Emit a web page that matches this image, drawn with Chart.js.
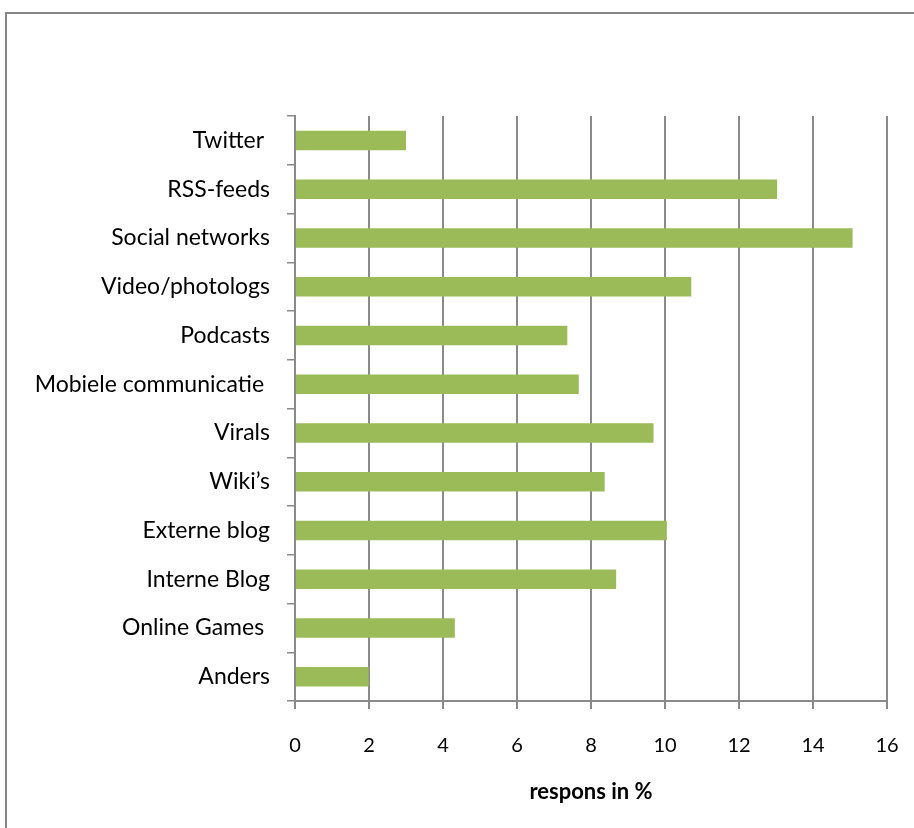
<!DOCTYPE html>
<html>
<head>
<meta charset="utf-8">
<script src="https://cdn.jsdelivr.net/npm/chart.js@4"></script>
<style>
html,body{margin:0;padding:0;background:#fff;overflow:hidden;width:914px;height:828px;}
canvas{display:block;}
</style>
</head>
<body>
<canvas id="c" width="980" height="828"></canvas>
<script>
const categories = ["Twitter ", "RSS-feeds", "Social networks", "Video/photologs", "Podcasts", "Mobiele communicatie ", "Virals", "Wiki\u2019s", "Externe blog", "Interne Blog", "Online Games ", "Anders"];
const values = [3.0, 13.03, 15.07, 10.71, 7.36, 7.67, 9.69, 8.37, 10.05, 8.68, 4.32, 1.99];
const xTicks = [0, 2, 4, 6, 8, 10, 12, 14, 16];
const xTitle = "respons in %";

const frame = {
  id: 'frame',
  beforeDraw(chart) {
    const ctx = chart.ctx;
    ctx.save();
    ctx.fillStyle = '#fff';
    ctx.fillRect(0, 0, chart.width, chart.height);
    ctx.strokeStyle = '#868686';
    ctx.lineWidth = 2;
    ctx.strokeRect(6, 13, 1000, 1000);
    ctx.restore();
  }
};

new Chart(document.getElementById('c'), {
  type: 'bar',
  data: {
    labels: categories,
    datasets: [{
      data: values,
      backgroundColor: '#9BBB59',
      borderWidth: 0,
      categoryPercentage: 1,
      barPercentage: 0.4
    }]
  },
  plugins: [frame],
  options: {
    indexAxis: 'y',
    responsive: false,
    animation: false,
    devicePixelRatio: 1,
    layout: { padding: { left: 0, top: 116, right: 93, bottom: 0 } },
    plugins: { legend: { display: false }, tooltip: { enabled: false } },
    scales: {
      x: {
        type: 'linear',
        min: 0, max: 16,
        afterFit(s) { s.height = 127; },
        afterBuildTicks(s) { s.ticks = xTicks.map(v => ({ value: v })); },
        ticks: { color: '#000', font: { family: 'Lato', size: 20 }, padding: 25 },
        grid: { color: '#8a8a8a', lineWidth: 2, tickLength: 8, drawTicks: true },
        border: { color: '#8a8a8a', width: 2 },
        title: { display: true, text: xTitle, color: '#000', font: { family: 'Lato', size: 22, weight: 'bold' }, padding: { top: 0, bottom: 23 } }
      },
      y: {
        afterFit(s) { s.width = 295; },
        ticks: { color: '#000', font: { family: 'Lato', size: 23 }, padding: 17 },
        grid: { color: '#8a8a8a', lineWidth: 1.5, drawOnChartArea: false, tickLength: 8, offset: true },
        border: { color: '#8a8a8a', width: 2 }
      }
    }
  }
});
</script>
</body>
</html>
